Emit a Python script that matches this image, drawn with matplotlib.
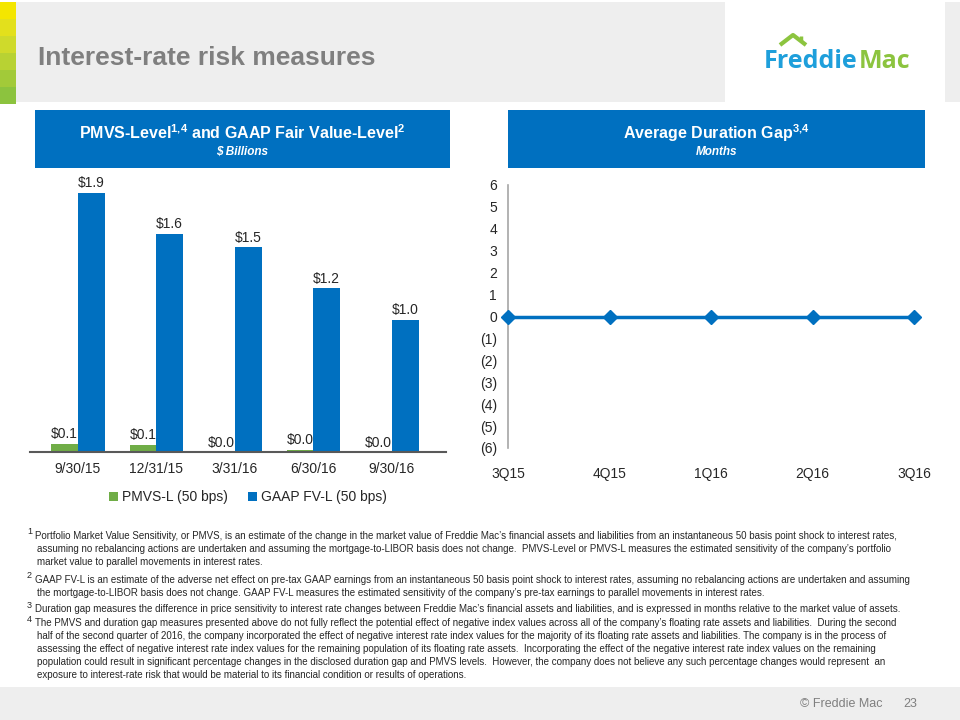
import matplotlib
matplotlib.use('Agg')
import matplotlib.pyplot as plt
from matplotlib.patches import Rectangle
from matplotlib.ticker import FuncFormatter

plt.rcParams['font.family'] = ['Liberation Sans', 'DejaVu Sans']
plt.rcParams['mathtext.fontset'] = 'custom'
plt.rcParams['mathtext.rm'] = 'Liberation Sans'
plt.rcParams['mathtext.bf'] = 'Liberation Sans:bold'

# data
dates = ['9/30/15', '12/31/15', '3/31/16', '6/30/16', '9/30/16']
pmvs_l = [0.06, 0.055, 0.0, 0.02, 0.0]
gaap_fv_l = [1.90, 1.60, 1.50, 1.20, 0.97]
quarters = ['3Q15', '4Q15', '1Q16', '2Q16', '3Q16']
duration_gap = [0, 0, 0, 0, 0]

BLUE = '#0070C0'
GREEN = '#70AD47'
GRAY_TXT = '#7F7F7F'
W, H = 960, 720


def px_rect(x0, y0, x1, y1):
    return [x0 / W, 1 - y1 / H, (x1 - x0) / W, (y1 - y0) / H]


fig = plt.figure(figsize=(9.6, 7.2), dpi=100)

# background layer in pixel coordinates
bg = fig.add_axes([0, 0, 1, 1])
bg.set_xlim(0, W)
bg.set_ylim(H, 0)
bg.axis('off')

bg.add_patch(Rectangle((16, 2), 709, 100, color='#EEEEEE', lw=0))
bg.add_patch(Rectangle((945, 2), 15, 100, color='#EEEEEE', lw=0))
strip = ['#F4E600', '#E3E01C', '#CFDA2B', '#B8D233', '#A2CA39', '#8CC33E']
for i, c in enumerate(strip):
    bg.add_patch(Rectangle((0, 2 + i * 17), 16, 17, color=c, lw=0))
bg.add_patch(Rectangle((0, 687), W, 33, color='#EEEEEE', lw=0))

bg.text(38, 58, 'Interest-rate risk measures', fontsize=19, fontweight='bold',
        color=GRAY_TXT, va='center', ha='left')

# logo
logo_font = ['Open Sans', 'DejaVu Sans']
bg.text(764, 68, 'Freddie', fontsize=18, fontweight='bold', color='#1E9FDB',
        family=logo_font, ha='left', va='baseline')
bg.text(859, 68, 'Mac', fontsize=18, fontweight='bold', color='#8CC43F',
        family=logo_font, ha='left', va='baseline')
bg.plot([780, 793, 806], [45, 35, 45], color='#8CC43F', lw=3, solid_capstyle='butt')
bg.plot([801, 801], [36, 41], color='#8CC43F', lw=2.5, solid_capstyle='butt')

# section header boxes
for x0, x1, t1, t2 in [(35, 450, r'PMVS-Level$^{\mathbf{1{,}4}}$ and GAAP Fair Value-Level$^{\mathbf{2}}$', '$ Billions'),
                       (508, 925, r'Average Duration Gap$^{\mathbf{3{,}4}}$', 'Months')]:
    bg.add_patch(Rectangle((x0, 110), x1 - x0, 58, color=BLUE, lw=0))
    bg.text((x0 + x1) / 2, 133, t1, color='white', fontsize=11.5, fontweight='bold',
            ha='center', va='center')
    bg.text((x0 + x1) / 2, 152, t2.replace('$', r'\$'), color='white', fontsize=8.5,
            fontweight='bold', style='italic', ha='center', va='center')

# bar chart
ax1 = fig.add_axes(px_rect(30, 179, 446, 452.3))
ax1.patch.set_alpha(0)
x = range(len(dates))
bw = 0.34
b1 = ax1.bar([i - bw / 2 for i in x], pmvs_l, bw, color=GREEN, label='PMVS-L (50 bps)')
b2 = ax1.bar([i + bw / 2 for i in x], gaap_fv_l, bw, color=BLUE, label='GAAP FV-L (50 bps)')
for bars, vals in [(b1, pmvs_l), (b2, gaap_fv_l)]:
    for r, v in zip(bars, vals):
        ax1.annotate(f'${v:.1f}', (r.get_x() + r.get_width() / 2, v), xytext=(0, 2),
                     textcoords='offset points', ha='center', va='bottom',
                     fontsize=10, color='#262626')
ax1.set_xlim(-0.61, 4.69)
ax1.set_ylim(0, 2.0)
ax1.set_xticks(list(x))
ax1.set_xticklabels(dates, fontsize=10, color='#262626')
ax1.set_yticks([])
ax1.tick_params(axis='x', length=0, pad=7)
for s in ['top', 'right', 'left']:
    ax1.spines[s].set_visible(False)
ax1.spines['bottom'].set_color('#595959')
ax1.spines['bottom'].set_linewidth(1.5)
fig.legend(handles=[b1, b2], loc='center', bbox_to_anchor=(248 / W, 1 - 497 / H),
           ncol=2, frameon=False, fontsize=10, handlelength=0.6, handleheight=0.6,
           handletextpad=0.3, columnspacing=1.5, labelcolor='#262626')

# line chart
ax2 = fig.add_axes(px_rect(508, 185, 914, 448))
ax2.patch.set_alpha(0)
ax2.plot(range(len(quarters)), duration_gap, color=BLUE, lw=2.5, marker='D',
         markersize=7, clip_on=False, zorder=3)
ax2.set_xlim(0, 4)
ax2.set_ylim(-6, 6)
ax2.set_yticks(range(-6, 7))
ax2.yaxis.set_major_formatter(FuncFormatter(lambda v, p: f'({abs(int(v))})' if v < 0 else f'{int(v)}'))
ax2.set_xticks(range(len(quarters)))
ax2.set_xticklabels(quarters)
ax2.tick_params(axis='y', length=0, pad=8, labelsize=10, labelcolor='#262626')
ax2.tick_params(axis='x', length=0, pad=14, labelsize=10, labelcolor='#262626')
for s in ['top', 'right', 'bottom']:
    ax2.spines[s].set_visible(False)
ax2.spines['left'].set_color('#A6A6A6')
ax2.spines['left'].set_linewidth(1.2)

# footnotes
notes = [
    ('1', 531, [
        (35, 536, 'Portfolio Market Value Sensitivity, or PMVS, is an estimate of the change in the market value of Freddie Mac’s financial assets and liabilities from an instantaneous 50 basis point shock to interest rates,'),
        (37, 549, 'assuming no rebalancing actions are undertaken and assuming the mortgage-to-LIBOR basis does not change.  PMVS-Level or PMVS-L measures the estimated sensitivity of the company’s portfolio'),
        (37, 562, 'market value to parallel movements in interest rates.'),
    ]),
    ('2', 576, [
        (35, 580, 'GAAP FV-L is an estimate of the adverse net effect on pre-tax GAAP earnings from an instantaneous 50 basis point shock to interest rates, assuming no rebalancing actions are undertaken and assuming'),
        (37, 593, 'the mortgage-to-LIBOR basis does not change. GAAP FV-L measures the estimated sensitivity of the company’s pre-tax earnings to parallel movements in interest rates.'),
    ]),
    ('3', 605, [
        (35, 609, 'Duration gap measures the difference in price sensitivity to interest rate changes between Freddie Mac’s financial assets and liabilities, and is expressed in months relative to the market value of assets.'),
    ]),
    ('4', 619, [
        (35, 623, 'The PMVS and duration gap measures presented above do not fully reflect the potential effect of negative index values across all of the company’s floating rate assets and liabilities.  During the second'),
        (37, 636, 'half of the second quarter of 2016, the company incorporated the effect of negative interest rate index values for the majority of its floating rate assets and liabilities. The company is in the process of'),
        (37, 649, 'assessing the effect of negative interest rate index values for the remaining population of its floating rate assets.  Incorporating the effect of the negative interest rate index values on the remaining'),
        (37, 662, 'population could result in significant percentage changes in the disclosed duration gap and PMVS levels.  However, the company does not believe any such percentage changes would represent  an'),
        (37, 675, 'exposure to interest-rate risk that would be material to its financial condition or results of operations.'),
    ]),
]
for num, ny, lines in notes:
    bg.text(27, ny, num, fontsize=6.5, color='#262626', ha='left', va='center')
    for lx, ly, txt in lines:
        bg.text(lx, ly, txt, fontsize=7.0, color='#262626', ha='left', va='center')

bg.text(800, 704, '© Freddie Mac', fontsize=9, color=GRAY_TXT, ha='left', va='center')
bg.text(903, 704, '23', fontsize=9, color=GRAY_TXT, ha='left', va='center')

fig.savefig('out.png', dpi=100)
